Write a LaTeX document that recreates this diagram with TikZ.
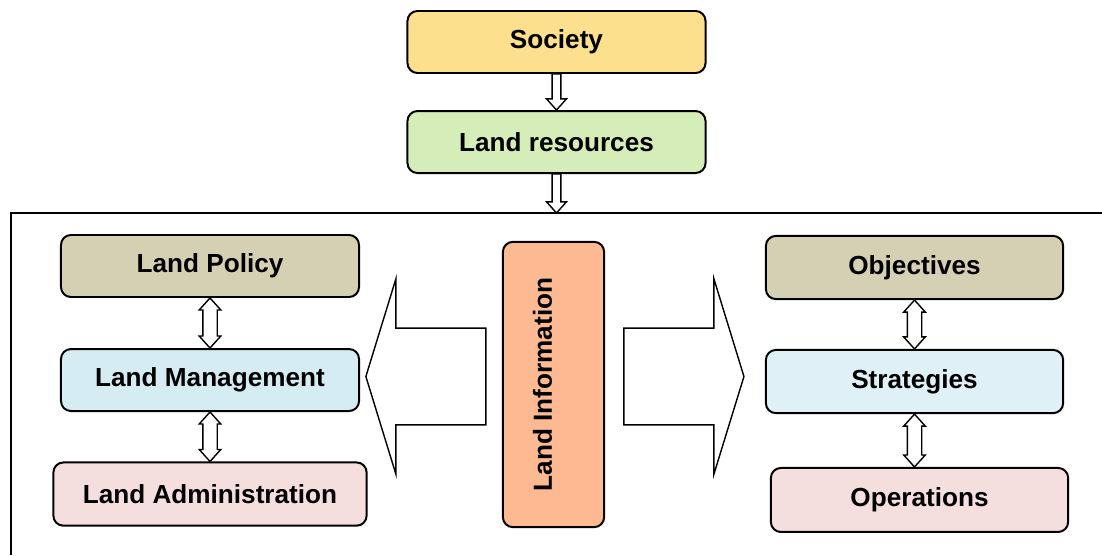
\documentclass[tikz,border=0pt]{standalone}
\usepackage{fontspec}
\setmainfont{Liberation Sans}
\usepackage{graphicx}
\usetikzlibrary{calc}

\definecolor{societyfill}{HTML}{FDE08E}
\definecolor{resourcefill}{HTML}{D5EDB8}
\definecolor{policyfill}{HTML}{D5CFB3}
\definecolor{managefill}{HTML}{D5ECF3}
\definecolor{adminfill}{HTML}{F4DEDE}
\definecolor{infofill}{HTML}{FCB992}

\tikzset{
    block/.style={draw, rounded corners=0.25cm, line width=1.4pt, minimum width=7.45cm, minimum height=1.55cm, align=center, font=\bfseries\fontsize{18.6}{22}\selectfont},
    hollow/.style={draw, fill=white, line width=1pt, line join=miter},
    frame/.style={draw, line width=1.4pt}
}

% hollow one-way arrow, from a point down to a lower one
\newcommand{\downlink}[2]{%
    \draw[hollow] let \p1=(#1), \p2=(#2) in
        (\x1-0.11cm,\y1) -- (\x1-0.11cm,\y2+0.28cm) -- (\x1-0.25cm,\y2+0.28cm)
        -- (\x1,\y2) -- (\x1+0.25cm,\y2+0.28cm) -- (\x1+0.11cm,\y2+0.28cm)
        -- (\x1+0.11cm,\y1) -- cycle;}

% hollow two-way arrow between two stacked boxes
\newcommand{\bothlink}[2]{%
    \draw[hollow] let \p1=(#1), \p2=(#2) in
        (\x1,\y1) -- (\x1+0.27cm,\y1-0.3cm) -- (\x1+0.18cm,\y1-0.3cm)
        -- (\x1+0.18cm,\y2+0.3cm) -- (\x1+0.27cm,\y2+0.3cm) -- (\x1,\y2)
        -- (\x1-0.27cm,\y2+0.3cm) -- (\x1-0.18cm,\y2+0.3cm)
        -- (\x1-0.18cm,\y1-0.3cm) -- (\x1-0.27cm,\y1-0.3cm) -- cycle;}

\begin{document}
\begin{tikzpicture}[x=0.025cm, y=0.025cm, node distance=2.85cm]
\useasboundingbox (0,0) rectangle (1102,555);

% top of the chain
\node (society) [block, fill=societyfill] at (556.5,513) {Society};
\node (land_resources) [block, fill=resourcefill, below of=society, yshift=0.35cm] {Land resources};

% frame around the lower part (open at the right and bottom)
\coordinate (frame_corner) at (11,342);
\coordinate (frame_entry) at (land_resources.south |- frame_corner);
\draw[frame] (11,0) -- (frame_corner) -- (1102,342);

% left column
\node (land_policy) [block, fill=policyfill] at (210,289) {Land Policy};
\node (land_management) [block, fill=managefill, below of=land_policy] {Land Management};
\node (land_administration) [block, fill=adminfill, below of=land_management, minimum width=7.83cm, minimum height=1.58cm] {Land Administration};

% right column
\node (objectives) [block, fill=policyfill, minimum width=7.43cm, minimum height=1.58cm] at (914.5,287.5) {Objectives};
\node (strategies) [block, fill=managefill!75!white, below of=objectives, minimum width=7.43cm, minimum height=1.58cm] {Strategies};
\node (operations) [block, fill=adminfill, below of=strategies, xshift=0.125cm, yshift=-0.11cm, minimum width=7.43cm, minimum height=1.6cm] {Operations};

% centre
\node (land_information) [block, fill=infofill, minimum width=2.53cm, minimum height=7.13cm] at (553.5,170.5) {\rotatebox{90}{\rule[-0.55cm]{0pt}{0.55cm}Land Information}};

\downlink{society.south}{land_resources.north}
\downlink{land_resources.south}{frame_entry}

\bothlink{land_policy.south}{land_management.north}
\bothlink{land_management.south}{land_administration.north}
\bothlink{objectives.south}{strategies.north}
\bothlink{strategies.south}{operations.north}

% big arrows out of the information box
\draw[hollow] let \p1=(land_information.west) in
    (\x1-0.4cm,\y1+1.41cm) -- (\x1-2.65cm,\y1+1.41cm) -- (\x1-2.65cm,\y1+2.64cm)
    -- (\x1-3.4cm,\y1+0.2cm) -- (\x1-2.65cm,\y1-2.24cm) -- (\x1-2.65cm,\y1-1.01cm)
    -- (\x1-0.4cm,\y1-1.01cm) -- cycle;
\draw[hollow] let \p1=(land_information.east) in
    (\x1+0.47cm,\y1+1.41cm) -- (\x1+2.72cm,\y1+1.41cm) -- (\x1+2.72cm,\y1+2.64cm)
    -- (\x1+3.47cm,\y1+0.2cm) -- (\x1+2.72cm,\y1-2.24cm) -- (\x1+2.72cm,\y1-1.01cm)
    -- (\x1+0.47cm,\y1-1.01cm) -- cycle;
\end{tikzpicture}
\end{document}
